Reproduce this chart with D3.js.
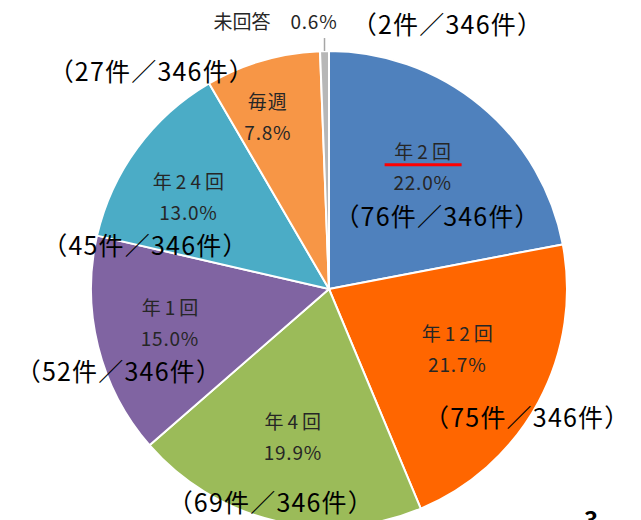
<!DOCTYPE html>
<html>
<head>
<meta charset="utf-8">
<script src="https://cdn.jsdelivr.net/npm/d3@7"></script>
<style>
  body { margin: 0; background: #fff; }
  svg { display: block; font-family: "Noto Sans CJK JP", "Noto Sans", sans-serif; }
</style>
</head>
<body>
<script>
// chart data
const categories = ["年2回", "年12回", "年4回", "年1回", "年24回", "毎週", "未回答"];
const percents = [22.0, 21.7, 19.9, 15.0, 13.0, 7.8, 0.6];
const counts = [76, 75, 69, 52, 45, 27, 2];
const total = 346;
const colors = ["#4f81bd", "#ff6600", "#9bbb59", "#8064a2", "#4bacc6", "#f79646", "#b7b7b7"];

// label tweaks (px from the 0.65R centroid), and where the count notes sit from there
const labelShift = [[-5, -4], [-8, -14], [-1, -4], [-9, -5], [-16, -1], [-18, -24]];
const noteShift = [[15, 51], [70, 70], [-22, 67], [-51, 50], [-43, 50], [-116, -44]];

const W = 641, H = 520;
const cx = 329, cy = 289, R = 238;

const svg = d3.select("body").append("svg")
    .attr("width", W)
    .attr("height", H);

const pie = d3.pie().sort(null).value(d => d.v);
const arc = d3.arc().innerRadius(0).outerRadius(R);
const labelArc = d3.arc().innerRadius(R * 0.65).outerRadius(R * 0.65);

const data = categories.map((c, i) => ({c: c, v: percents[i], n: counts[i], i: i}));
const arcs = pie(data);

const g = svg.append("g").attr("transform", `translate(${cx},${cy})`);

g.selectAll("path.slice")
    .data(arcs)
    .join("path")
    .attr("class", "slice")
    .attr("d", arc)
    .attr("fill", d => colors[d.data.i])
    .attr("stroke", "#fff")
    .attr("stroke-width", 2);

// inner labels
const inner = arcs.filter(d => d.data.i < 6);
const lab = g.selectAll("g.lab")
    .data(inner)
    .join("g")
    .attr("class", "lab")
    .attr("transform", d => {
        const [x, y] = labelArc.centroid(d);
        const s = labelShift[d.data.i];
        return `translate(${x + s[0]},${y + s[1]})`;
    });

// names with digits are spread out a bit in the original
lab.append("text")
    .attr("text-anchor", "middle")
    .attr("x", d => /\d/.test(d.data.c) ? 2 : 0)
    .attr("y", -7)
    .attr("font-size", 19)
    .attr("letter-spacing", d => /\d/.test(d.data.c) ? 4 : 1)
    .attr("fill", "#262626")
    .text(d => d.data.c);

lab.append("text")
    .attr("text-anchor", "middle")
    .attr("y", 24)
    .attr("font-size", 19)
    .attr("letter-spacing", 0.8)
    .attr("fill", "#262626")
    .text(d => d.data.v.toFixed(1) + "%");

// count notes
lab.append("text")
    .attr("text-anchor", "middle")
    .attr("x", d => noteShift[d.data.i][0])
    .attr("y", d => noteShift[d.data.i][1] + 9)
    .attr("font-size", 25)
    .attr("letter-spacing", 1.2)
    .attr("fill", "#000")
    .text(d => `（${d.data.n}件／${total}件）`);

// red underline under the first label
const first = labelArc.centroid(arcs[0]);
g.append("line")
    .attr("x1", first[0] + labelShift[0][0] - 38)
    .attr("x2", first[0] + labelShift[0][0] + 39)
    .attr("y1", first[1] + labelShift[0][1] - 1)
    .attr("y2", first[1] + labelShift[0][1] - 1)
    .attr("stroke", "#ff0000")
    .attr("stroke-width", 3);

// tiny slice: leader line + outside label
const last = arcs[6];
const mid = (last.startAngle + last.endAngle) / 2;
const p0 = [Math.sin(mid) * R, -Math.cos(mid) * R];
g.append("line")
    .attr("x1", p0[0]).attr("y1", p0[1])
    .attr("x2", p0[0]).attr("y2", p0[1] - 13)
    .attr("stroke", "#a6a6a6")
    .attr("stroke-width", 1.5);

const tiny = g.append("text")
    .attr("x", p0[0] + 13)
    .attr("y", p0[1] - 22)
    .attr("text-anchor", "end")
    .attr("font-size", 19)
    .attr("fill", "#262626");
tiny.append("tspan").text(last.data.c);
tiny.append("tspan").attr("dx", 20).attr("letter-spacing", 0.8).text(last.data.v.toFixed(1) + "%");

g.append("text")
    .attr("x", p0[0] + 123)
    .attr("y", p0[1] - 17)
    .attr("text-anchor", "middle")
    .attr("font-size", 25)
    .attr("letter-spacing", 1.2)
    .attr("fill", "#000")
    .text(`（${last.data.n}件／${total}件）`);

// page number cut off at the bottom edge
svg.append("text")
    .attr("x", 591)
    .attr("y", 529)
    .attr("text-anchor", "middle")
    .attr("font-size", 24)
    .attr("font-weight", "bold")
    .attr("fill", "#000")
    .text("3");
</script>
</body>
</html>
